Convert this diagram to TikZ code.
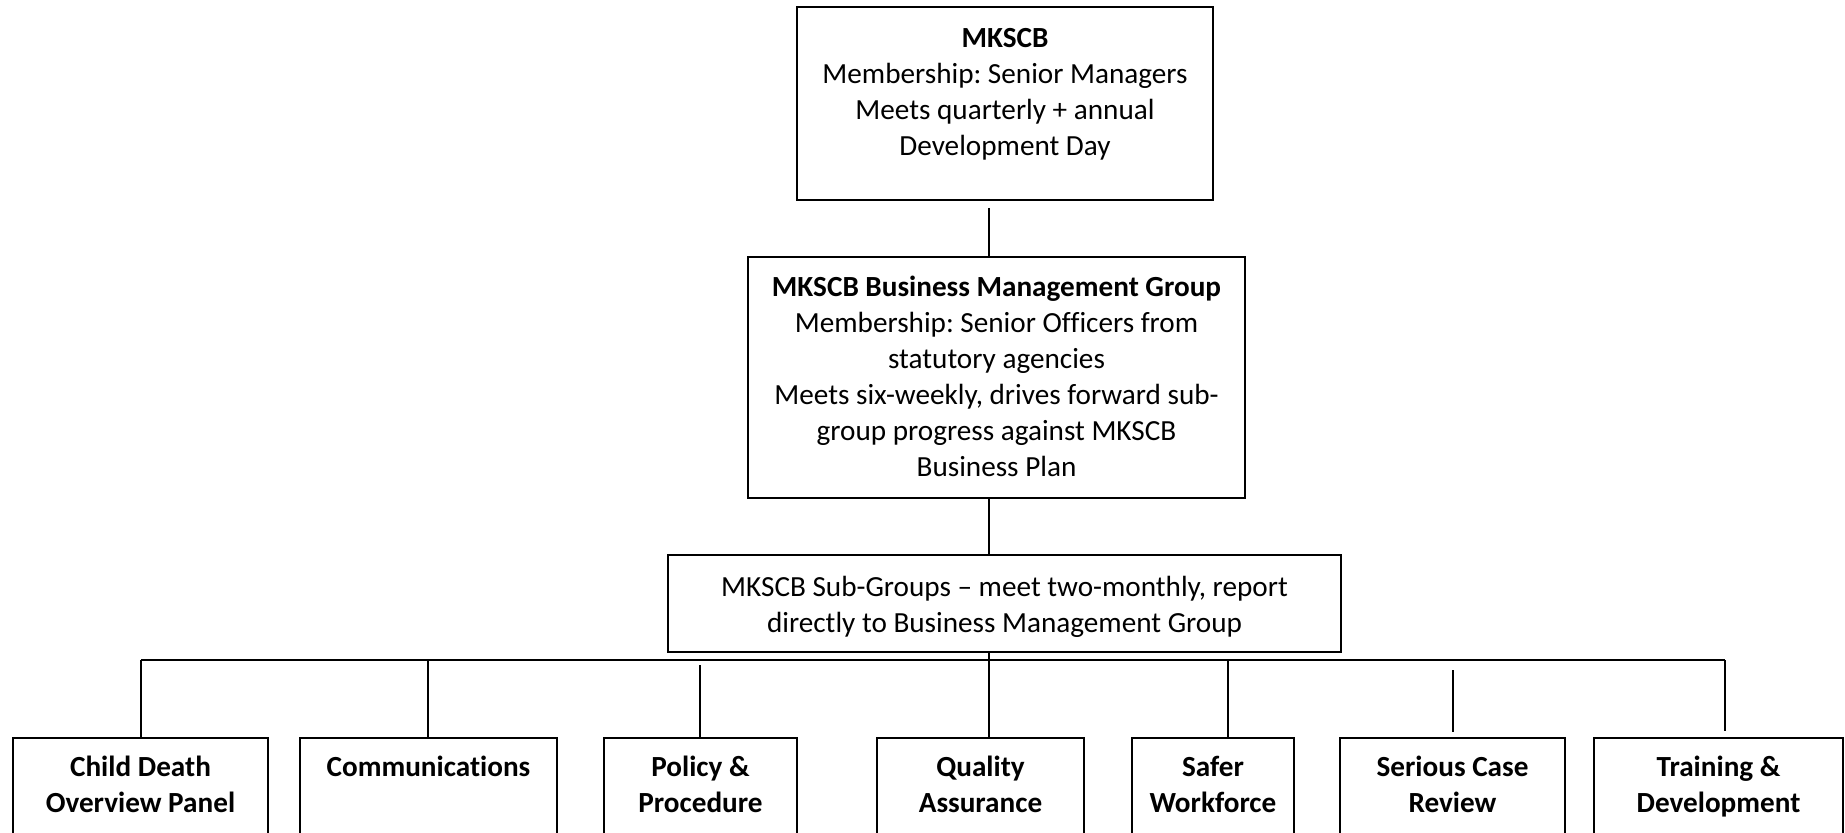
\documentclass[tikz,border=0pt]{standalone}
\usepackage{fontspec}
\setmainfont{Carlito}[Ligatures={NoCommon}]
\frenchspacing
\begin{document}
\begin{tikzpicture}[x=0.5pt,y=-0.5pt,
  box/.style={draw=black, line width=0.9pt, inner sep=0pt},
  txt/.style={inner sep=0pt, align=center, font=\fontsize{14.6}{18}\selectfont},
  btxt/.style={inner sep=0pt, align=center, font=\fontsize{14.6}{18}\selectfont\bfseries},
  link/.style={draw=black, line width=0.9pt}]
% page frame; the bottom row of boxes runs off the lower edge
\clip (0,0) rectangle (1845,832);

% upper tiers
\node[box, minimum width=208pt, minimum height=96.5pt] (mkscb) at (1005,103.5) {};
\node[btxt, anchor=north] (mkscb-t) at ([yshift=-10.8pt]mkscb.north)
  {MKSCB\\\mdseries Membership: Senior Managers\\\mdseries Meets quarterly + annual\\\mdseries Development Day};

\node[box, minimum width=248.5pt, minimum height=120.5pt] (bmg) at (996.5,377.5) {};
\node[txt] (bmg-t) at (996.5,376)
  {\textbf{MKSCB Business Management Group}\\Membership: Senior Officers from\\statutory agencies\\Meets six-weekly, drives forward sub-\\group progress against MKSCB\\Business Plan};

\node[box, minimum width=336.5pt, minimum height=48.5pt] (sub) at (1004.5,603.5) {};
\node[txt] (sub-t) at (1004.5,607)
  {MKSCB Sub-Groups -- meet two-monthly, report\\directly to Business Management Group};

% sub-group boxes
\node[box, minimum width=127.5pt, minimum height=81pt] (cdop)   at (140.5,819) {};
\node[box, minimum width=128.5pt, minimum height=81pt] (comm)   at (428.5,819) {};
\node[box, minimum width=96.5pt,  minimum height=81pt] (policy) at (700.5,819) {};
\node[box, minimum width=103.5pt, minimum height=81pt] (qa)     at (980.5,819) {};
\node[box, minimum width=81pt,    minimum height=81pt] (safer)  at (1213,819) {};
\node[box, minimum width=112.5pt, minimum height=81pt] (scr)    at (1452.5,819) {};
\node[box, minimum width=124.5pt, minimum height=81pt] (td)     at (1718.5,819) {};

\foreach \n/\t in {cdop/{Child Death\\Overview Panel}, comm/{Communications},
    policy/{Policy \&\\Procedure}, qa/{Quality\\Assurance}, safer/{Safer\\Workforce},
    scr/{Serious Case\\Review}, td/{Training \&\\Development}}
  \node[btxt, anchor=north] (\n-t) at ([yshift=-9pt]\n.north) {\vphantom{Cd}\t};

% connectors: trunk, bus and drops to each sub-group
\coordinate (spine) at (989,0);
\coordinate (busL) at (141,660);
\coordinate (busR) at (1725,660);
\coordinate (commdrop) at (428,660);
\coordinate (policydrop) at (700,665);
\coordinate (saferdrop) at (1228,660);
\coordinate (scrdrop) at (1453,670);

\draw[link] ([yshift=-3.5pt]mkscb.south -| spine) -- (bmg.north -| spine);
\draw[link] (bmg.south -| spine) -- (sub.north -| spine);
\draw[link] (sub.south -| spine) -- (qa.north -| spine);
\draw[link] (busL) -- (busR);
\draw[link] (busL) -- (cdop.north -| busL);
\draw[link] (commdrop) -- (comm.north -| commdrop);
\draw[link] (policydrop) -- (policy.north -| policydrop);
\draw[link] (saferdrop) -- (safer.north -| saferdrop);
\draw[link] (scrdrop) -- ([yshift=2.5pt]scr.north -| scrdrop);
\draw[link] (busR) -- ([yshift=3pt]td.north -| busR);
\end{tikzpicture}
\end{document}
